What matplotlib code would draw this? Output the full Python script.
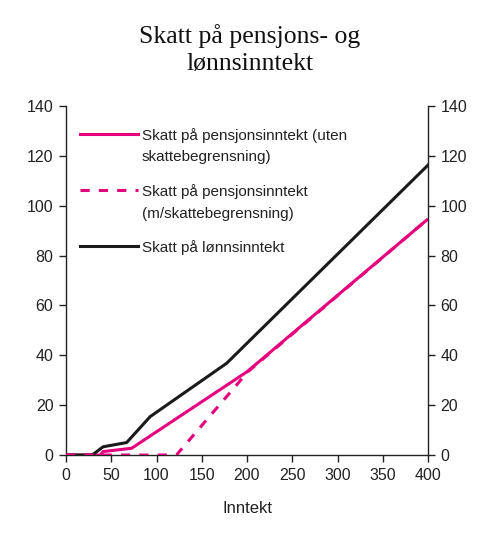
import matplotlib
matplotlib.use("Agg")
import matplotlib.pyplot as plt

# Data
lonn_x = [0, 29, 41, 67, 93, 177.5, 400]
lonn_y = [0, 0, 3.3, 5.0, 15.4, 36.8, 116.3]

pens_x = [0, 38, 41, 72.5, 200, 400]
pens_y = [0, 0, 1.4, 2.7, 33.4, 94.7]

pens_begr_x = [0, 122, 201, 400]
pens_begr_y = [0, 0, 33.4, 94.7]

x_ticks = [0, 50, 100, 150, 200, 250, 300, 350, 400]
y_ticks = [0, 20, 40, 60, 80, 100, 120, 140]

labels = [["Skatt på pensjonsinntekt (uten", "skattebegrensning)"],
          ["Skatt på pensjonsinntekt", "(m/skattebegrensning)"],
          ["Skatt på lønnsinntekt"]]

pink = "#E5007D"
black = "#1a1a1a"

plt.rcParams['font.family'] = ['Liberation Sans', 'DejaVu Sans']

fig = plt.figure(figsize=(5.0, 5.33), dpi=100)
ax = fig.add_axes([0.132, 0.1463, 0.724, 0.6548])

lw = 2.2
ax.plot(pens_x, pens_y, color=pink, lw=lw, solid_capstyle='butt', zorder=3)
ax.plot(lonn_x, lonn_y, color=black, lw=lw, zorder=4)
ax.plot(pens_begr_x, pens_begr_y, color=pink, lw=lw, dashes=(3, 3), zorder=5)

ax.set_xlim(0, 400)
ax.set_ylim(0, 140)
ax.set_xticks(x_ticks)
ax.set_yticks(y_ticks)
ax.spines['top'].set_visible(False)
for s in ['left', 'right', 'bottom']:
    ax.spines[s].set_color('#222222')
    ax.spines[s].set_linewidth(1.0)
ax.tick_params(axis='both', direction='out', length=5, width=1.0,
               labelsize=11.5, colors='#222222', pad=4)
ax.tick_params(axis='y', right=True, labelright=True)
ax.set_xlabel("Inntekt", fontsize=12, color='#222222', labelpad=13)

# Title
fig.text(0.5, 0.907, "Skatt på pensjons- og\nlønnsinntekt", ha='center', va='center',
         fontsize=18.5, family=['Liberation Serif', 'DejaVu Serif'], linespacing=1.3,
         color='#111111')

# Manual legend
leg_y = [0.920, 0.759, 0.599]
styles = [dict(color=pink, lw=lw), dict(color=pink, lw=lw, dashes=(3, 3)),
          dict(color=black, lw=lw)]
for yy, st, lab in zip(leg_y, styles, labels):
    ax.plot([0.039, 0.199], [yy, yy], transform=ax.transAxes, clip_on=False, **st)
    for i, line in enumerate(lab):
        ax.text(0.21, yy - i * 0.063, line, transform=ax.transAxes,
                va='center_baseline', ha='left', fontsize=11, color='#222222')

fig.savefig("out.png", dpi=100)
